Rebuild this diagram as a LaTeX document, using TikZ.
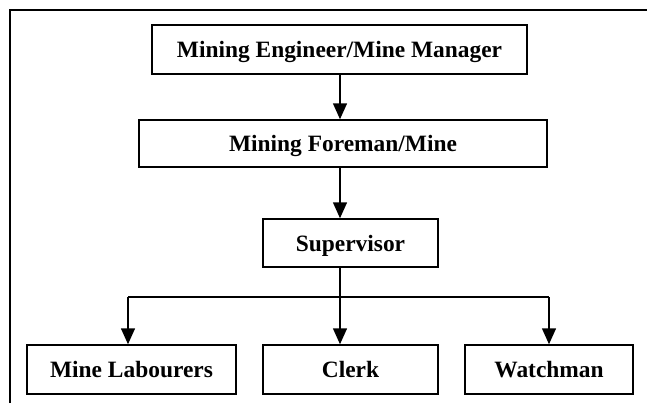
\documentclass[tikz,border=0pt]{standalone}
\usepackage{fontspec}
\setmainfont{Liberation Serif}
\usetikzlibrary{arrows.meta}
\tikzset{
  post/.style={draw=black, line width=1.5bp, fill=white, inner sep=0pt,
    font=\bfseries\fontsize{23.5}{28}\selectfont,
    text height=16bp, text depth=0bp, anchor=center},
  link/.style={line width=1.5bp, draw=black},
  arr/.style={link, -{Triangle[length=16bp,width=14bp]}},
}
\begin{document}
\begin{tikzpicture}[x=1bp, y=-1bp]
\useasboundingbox (0,0) rectangle (647,403);
% outer frame (only left and top edges are visible)
\draw[line width=2bp] (10,403) -- (10,10) -- (647,10);

\node[post, minimum width=375bp, minimum height=49bp] (top)   at (339.5,49.5) {Mining Engineer/Mine Manager};
\node[post, minimum width=408bp, minimum height=47bp] (fore)  at (343,143.5) {Mining Foreman/Mine};
\node[post, minimum width=175bp, minimum height=48bp] (sup)   at (350.5,243) {Supervisor};
\node[post, minimum width=209bp, minimum height=49bp] (lab)   at (131.5,369.5) {Mine Labourers};
\node[post, minimum width=175bp, minimum height=49bp] (clerk) at (350.5,369.5) {Clerk};
\node[post, minimum width=168bp, minimum height=49bp] (watch) at (549,369.5) {Watchman};

\coordinate (j)  at (340,297);
\coordinate (jl) at (128,297);
\coordinate (jr) at (549,297);

\draw[arr] (top.south -| j) -- (fore.north -| j);
\draw[arr] (fore.south -| j) -- (sup.north -| j);
\draw[link] (sup.south -| j) -- (j);
\draw[link] (jl) -- (jr);
\draw[arr] (jl) -- (lab.north -| jl);
\draw[arr] (j) -- (clerk.north -| j);
\draw[arr] (jr) -- (watch.north -| jr);
\end{tikzpicture}
\end{document}
